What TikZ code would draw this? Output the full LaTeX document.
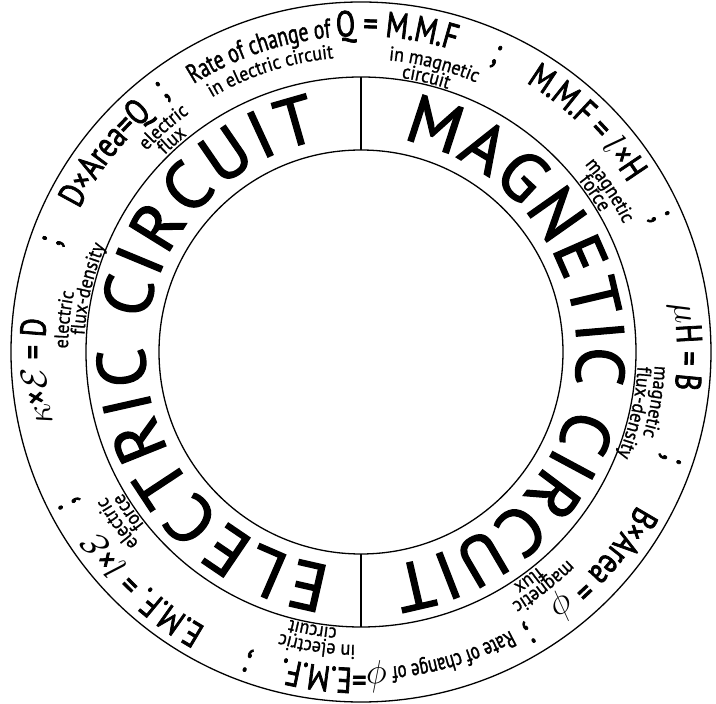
\nonstopmode
\RequirePackage{fix-cm}
\documentclass[tikz,border=0pt]{standalone}
\usepackage{fontspec}
\setmainfont{PT Sans}
\newfontfamily\bigfam[FakeBold=2]{PT Sans}
\newfontfamily\formfam[FakeStretch=0.78, FakeBold=2]{PT Sans}
\newfontfamily\smallfam[FakeStretch=0.9, FakeBold=1]{PT Sans}
\newfontfamily\ratefam[FakeStretch=0.72, FakeBold=1.5]{PT Sans}
\usetikzlibrary{decorations.text}

\newcommand{\bigfont}{\bigfam\fontsize{68}{68}\selectfont}
\newcommand{\formfont}{\formfam\fontsize{36}{36}\selectfont}
\newcommand{\smallfont}{\smallfam\fontsize{20}{20}\selectfont}
\newcommand{\ratefont}{\ratefam\fontsize{27}{27}\selectfont}
\newcommand{\ratesmall}{\ratefam\fontsize{23}{23}\selectfont}

% texto centrado num arco: [fonte]{angulo}{raio}{texto}
\newcommand{\ringtext}[4][\formfont]{%
  \path [decorate, decoration={text along path, text align=center,
      text={|#1|#4}}]
    ({#2+70}:#3) arc[start angle={#2+70}, end angle={#2-70}, radius=#3];}

\begin{document}
\begin{tikzpicture}[x=1pt, y=1pt]
    % Definindo os estilos
    \tikzstyle{ring} = [draw, line width=1.3pt]
    \tikzstyle{divider} = [draw, line width=1.3pt]

    \useasboundingbox (-361,-352) rectangle (355,352);

    % Circulos
    \coordinate (centre) at (0,0);
    \path [ring] (centre) circle[radius=350];
    \path [ring] (centre) circle[radius=275];
    \path [ring] (centre) circle[radius=202];

    % Divisoes do anel interno
    \path [divider] (90:202) -- (90:275);
    \path [divider] (270:202) -- (270:275);

    % Anel interno
    \path [decorate, decoration={text along path, text align=fit to path,
        text={|\bigfont|ELECTRIC CIRCUIT}}]
        (262:216) arc[start angle=262, end angle=101, radius=216];
    \path [decorate, decoration={text along path, text align=fit to path,
        text={|\bigfont|MAGNETIC CIRCUIT}}]
        (79:216) arc[start angle=79, end angle=-82, radius=216];

    % Anel externo - formulas
    \ringtext{183.5}{316}{{$\kappa$}×{$\mathcal{E}$} = D}
    \ringtext{142.2}{316}{D×Area=Q}
    \ringtext[\ratefont]{97.4}{316}{Rate of change of |\formfont|Q = M.M.F}
    \ringtext{45.4}{316}{M.M.F = {$l$}×H}
    \ringtext{1}{316}{{$\mu$}H = B}
    \ringtext{-41.2}{316}{B×Area = {$\phi$}}
    \ringtext[\ratesmall]{-83}{316}{Rate of change of |\formfont|{$\phi$}=E.M.F.}
    \ringtext{227.25}{316}{E.M.F. = {$l$}×{$\mathcal{E}$}}

    % Pontos e virgulas
    \ringtext{160.3}{320}{;}
    \ringtext{127.3}{320}{;}
    \ringtext{65.5}{318}{;}
    \ringtext{24.5}{320}{;}
    \ringtext{-19}{320}{;}
    \ringtext{-59}{320}{;}
    \ringtext{-110}{322}{;}
    \ringtext{207.5}{322}{;}

    % Legendas pequenas
    \ringtext[\smallfont]{173.75}{293}{electric}
    \ringtext[\smallfont]{167}{277}{flux-density}
    \ringtext[\smallfont]{131.3}{294}{electric}
    \ringtext[\smallfont]{131.8}{278}{flux}
    \ringtext[\smallfont]{107.85}{295}{in electric circuit}
    \ringtext[\smallfont]{75.7}{293}{in magnetic}
    \ringtext[\smallfont]{76.65}{277}{circuit}
    \ringtext[\smallfont]{33}{292}{magnetic}
    \ringtext[\smallfont]{34.2}{277}{force}
    \ringtext[\smallfont]{-9.6}{294}{magnetic}
    \ringtext[\smallfont]{-12.5}{277}{flux-density}
    \ringtext[\smallfont]{-52.1}{293}{magnetic}
    \ringtext[\smallfont]{-53.7}{278}{flux}
    \ringtext[\smallfont]{-98.55}{293}{in electric}
    \ringtext[\smallfont]{-99.9}{277}{circuit}
    \ringtext[\smallfont]{215.15}{293}{electric}
    \ringtext[\smallfont]{214.55}{277}{force}
\end{tikzpicture}
\end{document}
